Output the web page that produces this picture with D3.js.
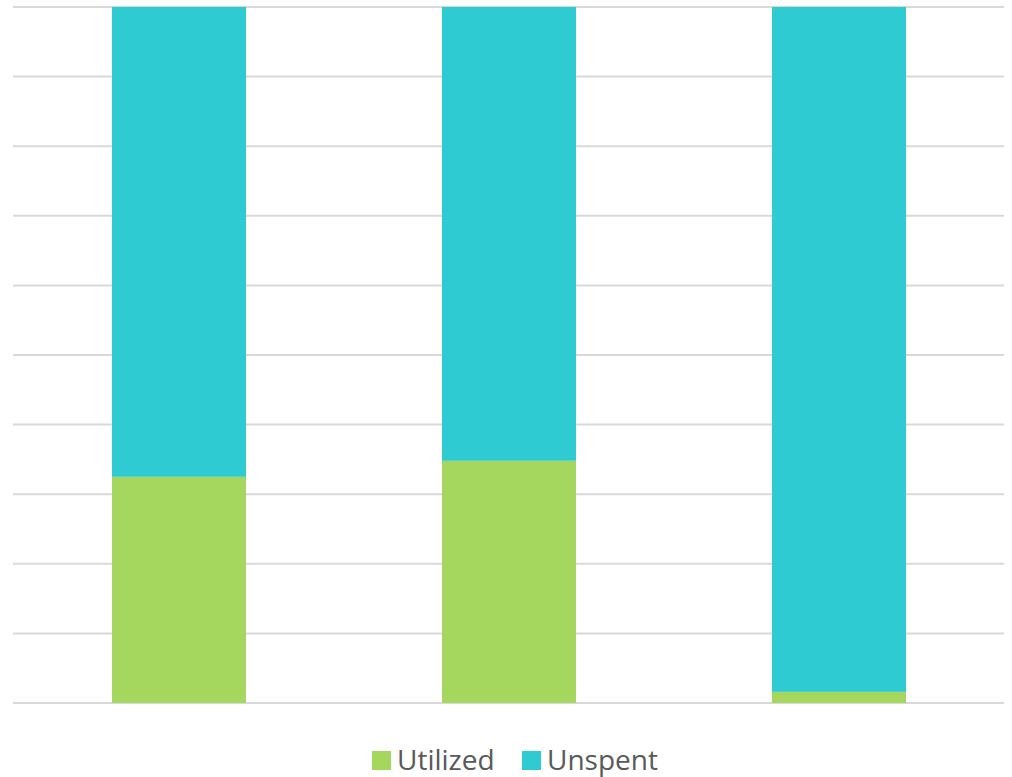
<!DOCTYPE html>
<html>
<head>
<meta charset="utf-8">
<script src="https://cdn.jsdelivr.net/npm/d3@7"></script>
<style>
  body { margin: 0; background: #fff; }
  svg { display: block; }
</style>
</head>
<body>
<svg id="chart"></svg>
<script>
const categories = ["A", "B", "C"];
const utilized = [32.5, 34.8, 1.6];
const unspent = [67.5, 65.2, 98.4];
const seriesNames = ["Utilized", "Unspent"];
const seriesColors = ["#a5d75e", "#2ecbd2"];
const yTicks = [0, 10, 20, 30, 40, 50, 60, 70, 80, 90, 100];

const width = 1012;
const height = 777;
const margin = { top: 7, right: 8, bottom: 74, left: 14 };

const data = categories.map((c, i) => ({ cat: c, Utilized: utilized[i], Unspent: unspent[i] }));

const svg = d3.select("#chart").attr("width", width).attr("height", height);

const x = d3.scaleBand()
  .domain(categories)
  .range([margin.left, width - margin.right])
  .paddingInner(0.594)
  .paddingOuter(0.297);

const y = d3.scaleLinear()
  .domain([0, 100])
  .range([height - margin.bottom, margin.top]);

// gridlines
svg.append("g")
  .selectAll("line")
  .data(yTicks)
  .enter()
  .append("line")
  .attr("x1", margin.left - 1)
  .attr("x2", width - margin.right)
  .attr("y1", (d) => y(d))
  .attr("y2", (d) => y(d))
  .attr("stroke", "#d9d9d9")
  .attr("stroke-width", 2);

const stack = d3.stack().keys(seriesNames);
const color = d3.scaleOrdinal().domain(seriesNames).range(seriesColors);

svg.append("g")
  .selectAll("g")
  .data(stack(data))
  .enter()
  .append("g")
  .attr("fill", (s) => color(s.key))
  .selectAll("rect")
  .data((s) => s)
  .enter()
  .append("rect")
  .attr("x", (d) => x(d.data.cat))
  .attr("width", x.bandwidth())
  .attr("y", (d) => y(d[1]))
  .attr("height", (d) => y(d[0]) - y(d[1]));

// legend
const legend = svg.append("g").attr("transform", "translate(372, 751)");
const legendX = [0, 150];
seriesNames.forEach((name, i) => {
  const item = legend.append("g").attr("transform", `translate(${legendX[i]},0)`);
  item.append("rect")
    .attr("width", 19)
    .attr("height", 19)
    .attr("fill", color(name));
  item.append("text")
    .attr("x", 25)
    .attr("y", 18.5)
    .attr("font-family", "Open Sans, sans-serif")
    .attr("font-size", 28)
    .attr("fill", "#595959")
    .text(name);
});
</script>
</body>
</html>
